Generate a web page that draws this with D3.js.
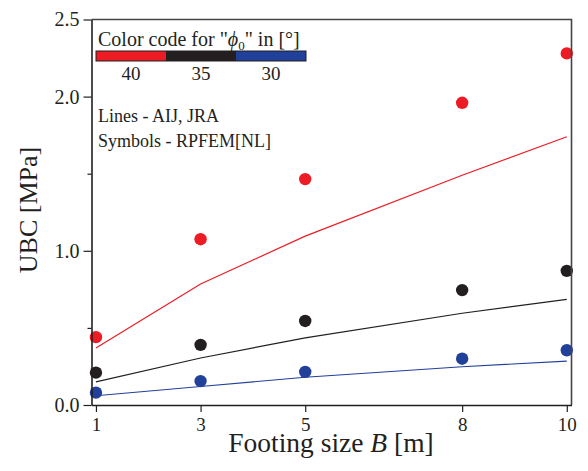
<!DOCTYPE html>
<html>
<head>
<meta charset="utf-8">
<script src="https://cdn.jsdelivr.net/npm/d3@7"></script>
<style>
  body { margin: 0; background: #fff; }
  svg text { font-family: "Liberation Serif", "DejaVu Serif", serif; fill: #231f20; }
</style>
</head>
<body>
<div id="chart"></div>
<script>
'use strict';

// footing sizes B [m]
var footingSizes = [ 1, 3, 5, 8, 10 ];
// friction angle classes, phi_0 [deg]
var phiValues = [ 40, 35, 30 ];
// RPFEM[NL] symbols, UBC [MPa]
var rpfem40 = [ 0.44, 1.075, 1.465, 1.96, 2.28 ];
var rpfem35 = [ 0.21, 0.39, 0.545, 0.745, 0.87 ];
var rpfem30 = [ 0.08, 0.155, 0.215, 0.30, 0.355 ];
// AIJ, JRA lines, UBC [MPa]
var aij40 = [ 0.37, 0.785, 1.095, 1.49, 1.74 ];
var aij35 = [ 0.15, 0.305, 0.435, 0.595, 0.685 ];
var aij30 = [ 0.06, 0.12, 0.18, 0.248, 0.285 ];
var yTicks = [ 0, 1, 2, 2.5 ];
var yMinorTicks = [ 0.5, 1.5 ];

var colors = { 40: '#ed1c24', 35: '#231f20', 30: '#21409a' };

var sets = [
  { phi: 40, symbols: rpfem40, line: aij40 },
  { phi: 35, symbols: rpfem35, line: aij35 },
  { phi: 30, symbols: rpfem30, line: aij30 }
];

var width = 588,
    height = 471,
    plot = { left: 91.5, right: 571.5, top: 19.5, bottom: 405 };

var svg = d3.select( '#chart' )
  .append( 'svg' )
    .attr( 'width', width )
    .attr( 'height', height );

var x = d3.scaleLinear()
    .domain( [ 0.915, 10.09 ] )
    .range( [ plot.left, plot.right ] );

var y = d3.scaleLinear()
    .domain( [ 0, 2.5 ] )
    .range( [ plot.bottom, plot.top ] );

var line = d3.line()
    .x( function( d ) { return x( d.x ); } )
    .y( function( d ) { return y( d.y ); } );

// lines and symbols
sets.forEach( function( s ) {
  var pts = footingSizes.map( function( b, i ) { return { x: b, y: s.line[i] }; } );
  svg.append( 'path' )
    .attr( 'd', line( pts ) )
    .attr( 'fill', 'none' )
    .attr( 'stroke', colors[s.phi] )
    .attr( 'stroke-width', 1.2 );
} );

sets.forEach( function( s ) {
  svg.append( 'g' )
    .selectAll( 'circle' )
    .data( footingSizes.map( function( b, i ) { return { x: b, y: s.symbols[i] }; } ) )
    .join( 'circle' )
      .attr( 'cx', function( d ) { return x( d.x ); } )
      .attr( 'cy', function( d ) { return y( d.y ); } )
      .attr( 'r', 6.2 )
      .attr( 'fill', colors[s.phi] );
} );

// frame
svg.append( 'path' )
  .attr( 'd', 'M' + plot.left + ',' + plot.top + 'H' + plot.right + 'V' + plot.bottom )
  .attr( 'fill', 'none' )
  .attr( 'stroke', '#444' )
  .attr( 'stroke-width', 1.6 );

// x axis
var xAxis = svg.append( 'g' )
  .attr( 'transform', 'translate(0,' + plot.bottom + ')' )
  .call( d3.axisBottom( x ).tickValues( footingSizes ).tickSize( 7 ).tickPadding( 6 ).tickSizeOuter( 0 ) );
xAxis.select( '.domain' ).attr( 'stroke', '#231f20' ).attr( 'stroke-width', 1.6 );
xAxis.selectAll( '.tick line' ).attr( 'stroke', '#231f20' ).attr( 'stroke-width', 1.2 );
xAxis.selectAll( 'text' ).style( 'font-size', '19px' ).attr( 'fill', '#231f20' );

// y axis
var yAxis = svg.append( 'g' )
  .attr( 'transform', 'translate(' + plot.left + ',0)' )
  .call( d3.axisLeft( y ).tickValues( yTicks ).tickSize( 8 ).tickPadding( 4 ).tickSizeOuter( 0 ).tickFormat( d3.format( '.1f' ) ) );
yAxis.select( '.domain' ).attr( 'stroke', '#231f20' ).attr( 'stroke-width', 1.6 );
yAxis.selectAll( '.tick line' ).attr( 'stroke', '#231f20' ).attr( 'stroke-width', 1.2 );
yAxis.selectAll( 'text' ).style( 'font-size', '20px' ).attr( 'fill', '#231f20' );

svg.append( 'g' )
  .attr( 'transform', 'translate(' + plot.left + ',0)' )
  .call( d3.axisLeft( y ).tickValues( yMinorTicks ).tickSize( 4 ).tickFormat( '' ).tickSizeOuter( 0 ) )
  .call( function( g ) { g.select( '.domain' ).remove(); } )
  .selectAll( '.tick line' ).attr( 'stroke', '#231f20' ).attr( 'stroke-width', 1.2 );

// axis titles
var xTitle = svg.append( 'text' )
  .attr( 'x', 331 )
  .attr( 'y', 452 )
  .attr( 'text-anchor', 'middle' )
  .style( 'font-size', '27.5px' );
xTitle.append( 'tspan' ).text( 'Footing size ' );
xTitle.append( 'tspan' ).style( 'font-style', 'italic' ).text( 'B' );
xTitle.append( 'tspan' ).text( ' [m]' );

svg.append( 'text' )
  .attr( 'transform', 'translate(37,210) rotate(-90)' )
  .attr( 'text-anchor', 'middle' )
  .style( 'font-size', '26px' )
  .text( 'UBC [MPa]' );

// colour code legend
var legendX = d3.scaleBand()
    .domain( phiValues )
    .range( [ 96, 306 ] );

var legendTitle = svg.append( 'text' )
  .attr( 'x', 98 )
  .attr( 'y', 46 )
  .style( 'font-size', '20px' );
legendTitle.append( 'tspan' ).text( 'Color code for "' );
legendTitle.append( 'tspan' ).style( 'font-style', 'italic' ).text( 'ϕ' );
legendTitle.append( 'tspan' ).attr( 'dy', 4 ).style( 'font-size', '13px' ).text( '0' );
legendTitle.append( 'tspan' ).attr( 'dy', -4 ).text( '" in [°]' );

svg.append( 'g' )
  .selectAll( 'rect' )
  .data( phiValues )
  .join( 'rect' )
    .attr( 'x', function( d ) { return legendX( d ); } )
    .attr( 'y', 51 )
    .attr( 'width', legendX.bandwidth() )
    .attr( 'height', 10 )
    .attr( 'fill', function( d ) { return colors[d]; } );

svg.append( 'rect' )
  .attr( 'x', 96 )
  .attr( 'y', 51 )
  .attr( 'width', 210 )
  .attr( 'height', 10 )
  .attr( 'fill', 'none' )
  .attr( 'stroke', '#231f20' )
  .attr( 'stroke-width', 1 );

svg.append( 'g' )
  .selectAll( 'text' )
  .data( phiValues )
  .join( 'text' )
    .attr( 'x', function( d ) { return legendX( d ) + legendX.bandwidth() / 2; } )
    .attr( 'y', 80 )
    .attr( 'text-anchor', 'middle' )
    .style( 'font-size', '19px' )
    .text( function( d ) { return d; } );

svg.append( 'text' )
  .attr( 'x', 98 )
  .attr( 'y', 122 )
  .style( 'font-size', '18px' )
  .text( 'Lines - AIJ, JRA' );

svg.append( 'text' )
  .attr( 'x', 98 )
  .attr( 'y', 147 )
  .style( 'font-size', '18px' )
  .text( 'Symbols - RPFEM[NL]' );
</script>
</body>
</html>
